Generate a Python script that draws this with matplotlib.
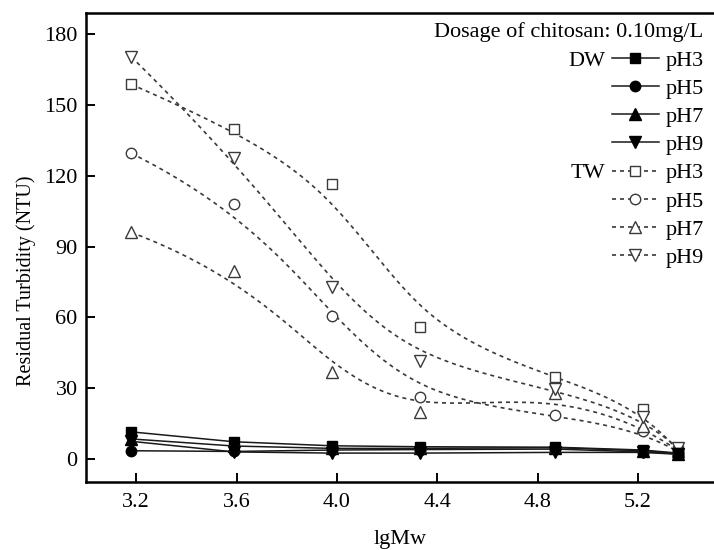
import numpy as np
import matplotlib
matplotlib.use("Agg")
import matplotlib.pyplot as plt
from matplotlib.lines import Line2D

# ---- data ----
lgMw = [3.18, 3.59, 3.98, 4.33, 4.87, 5.22, 5.36]
ph_labels = ["pH3", "pH5", "pH7", "pH9"]
dw_ph3 = [11.5, 7.3, 5.6, 5.2, 5.0, 3.8, 2.5]
dw_ph5 = [3.5, 3.2, 3.8, 4.0, 4.2, 3.0, 2.2]
dw_ph7 = [8.5, 5.5, 4.5, 4.5, 4.8, 3.5, 2.3]
dw_ph9 = [7.5, 3.0, 2.5, 2.5, 2.8, 2.8, 2.0]
tw_ph3 = [158.7, 139.6, 116.3, 55.8, 34.6, 21.2, 3.5]
tw_ph5 = [129.5, 107.9, 60.5, 26.1, 18.5, 11.9, 3.0]
tw_ph7 = [96.0, 79.6, 37.0, 20.0, 28.0, 14.0, 3.5]
tw_ph9 = [170.4, 127.6, 73.0, 41.5, 29.5, 17.9, 4.5]
yticks = [0, 30, 60, 90, 120, 150, 180]
xticks = [3.2, 3.6, 4.0, 4.4, 4.8, 5.2]
title_text = "Dosage of chitosan: 0.10mg/L"

markers = ["s", "o", "^", "v"]
msizes = [6.8, 7.5, 8.5, 8.5]
dw_series = [dw_ph3, dw_ph5, dw_ph7, dw_ph9]
tw_series = [tw_ph3, tw_ph5, tw_ph7, tw_ph9]


def bspline(xs, ys, n=300, k=3):
    P = np.column_stack([xs, ys]).astype(float)
    m = len(P)
    inner = np.linspace(0, 1, m - k + 1)
    t = np.concatenate([[0.0] * k, inner, [1.0] * k])
    u = np.linspace(0, 1, n)
    u[-1] -= 1e-10

    def N(i, p):
        if p == 0:
            return ((t[i] <= u) & (u < t[i + 1])).astype(float)
        a = np.zeros_like(u)
        d1 = t[i + p] - t[i]
        if d1 > 0:
            a += (u - t[i]) / d1 * N(i, p - 1)
        d2 = t[i + p + 1] - t[i + 1]
        if d2 > 0:
            a += (t[i + p + 1] - u) / d2 * N(i + 1, p - 1)
        return a

    B = np.array([N(i, k) for i in range(m)])
    C = B.T @ P
    return C[:, 0], C[:, 1]


plt.rcParams["font.family"] = ["Liberation Serif", "DejaVu Serif"]

W, H = 714, 550
fig = plt.figure(figsize=(W / 100, H / 100), dpi=100)
ax = fig.add_axes([86 / W, 1 - 482 / H, 1 - 86 / W, (482 - 13) / H])

dash = (0, (2.4, 2.4))
tw_col = "#3a3a3a"
dw_col = "#1a1a1a"

for ys in tw_series:
    cx, cy = bspline(lgMw, ys)
    ax.plot(cx, cy, linestyle=dash, color=tw_col, lw=1.2, zorder=2)
for ys, mk, ms in zip(tw_series, markers, msizes):
    ax.plot(lgMw, ys, linestyle="none", marker=mk, ms=ms, mfc="white",
            mec=tw_col, mew=1.0, zorder=3)

for ys, mk, ms in zip(dw_series, markers, msizes):
    ax.plot(lgMw, ys, linestyle="-", color=dw_col, lw=1.1, marker=mk,
            ms=ms, mfc="black", mec="black", zorder=4)

ax.set_xlim(3.0, 5.503)
ax.set_ylim(-9.74, 188.9)
ax.set_xticks(xticks)
ax.set_xticklabels([f"{v:.1f}" for v in xticks])
ax.set_yticks(yticks)
ax.tick_params(direction="in", length=6.5, width=1.4, labelsize=16, pad=6)
ax.tick_params(axis="x", pad=8)
for s in ["left", "bottom", "top"]:
    ax.spines[s].set_linewidth(1.8)
ax.spines["right"].set_visible(False)

ax.set_xlabel("lgMw", fontsize=16, labelpad=13)
ax.set_ylabel("Residual Turbidity (NTU)", fontsize=14.5)
ax.yaxis.set_label_coords(-0.080, (482 - 281) / 469)

fig.text(703 / W, 1 - 31.7 / H, title_text, ha="right", va="center", fontsize=16)

handles = []
for mk, ms in zip(markers, msizes):
    handles.append(Line2D([], [], color=dw_col, lw=1.1, marker=mk, ms=ms,
                          mfc="black", mec="black"))
for mk, ms in zip(markers, msizes):
    handles.append(Line2D([], [], color=tw_col, lw=1.2, linestyle=dash,
                          marker=mk, ms=ms, mfc="white", mec=tw_col, mew=1.0))
labels = ph_labels + ph_labels

leg = ax.legend(handles, labels, loc="upper right",
                bbox_to_anchor=(704 / W, 1 - 50 / H),
                bbox_transform=fig.transFigure, frameon=False, fontsize=16,
                borderpad=0, borderaxespad=0, handlelength=2.1,
                handletextpad=0.32, labelspacing=0.345, numpoints=1)

fig.canvas.draw()
r = fig.canvas.get_renderer()
inv = fig.transFigure.inverted()
texts = leg.get_texts()
for idx, txt in [(0, "DW"), (4, "TW")]:
    h = leg.legend_handles[idx]
    hb = h.get_window_extent(r)
    tb = texts[idx].get_window_extent(r)
    x0, y0 = inv.transform((hb.x0 - 2, tb.y0))
    fig.text(x0, y0, txt, ha="right", va="bottom", fontsize=16)

fig.savefig("out.png", dpi=100)
